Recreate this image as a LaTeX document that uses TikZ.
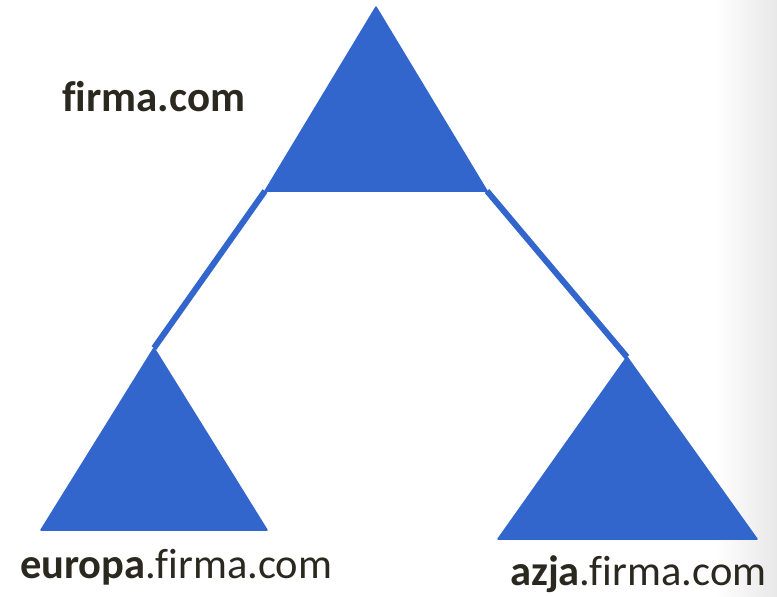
\documentclass[tikz,border=0pt]{standalone}
\usepackage{fontspec}
\setmainfont{Carlito}[Ligatures=CommonOff]
\definecolor{tri}{HTML}{3366CC}
\definecolor{txt}{HTML}{2B2820}
\begin{document}
\begin{tikzpicture}[x=1pt,y=-1pt,
  trifill/.style={fill=tri,draw=tri,line width=1.5pt,line join=round},
  link/.style={draw=tri,line width=6pt},
  lbl/.style={text=txt,inner sep=0pt,anchor=base west}]
\useasboundingbox (0,0) rectangle (777,597);
\shade[left color=white,right color=black!9,draw=none] (715,0) rectangle (777,597);
% top triangle
\coordinate (tA) at (376,7);
\coordinate (tL) at (265,191);
\coordinate (tR) at (487,191);
% left triangle
\coordinate (lA) at (154,348);
\coordinate (lL) at (41,530);
\coordinate (lR) at (267,530);
% right triangle
\coordinate (rA) at (627,357);
\coordinate (rL) at (498,539);
\coordinate (rR) at (757,539);
\draw[link] (tL) -- (lA);
\draw[link] (tR) -- (rA);
\path[trifill] (tA) -- (tR) -- (tL) -- cycle;
\path[trifill] (lA) -- (lR) -- (lL) -- cycle;
\path[trifill] (rA) -- (rR) -- (rL) -- cycle;
\node[lbl,font=\fontsize{43}{47}\selectfont\bfseries] (top) at (62,111) {firma.com};
\node[lbl,font=\fontsize{42.5}{46}\selectfont] (eu) at (20,578) {\textbf{europa}.firma.com};
\node[lbl,font=\fontsize{42.5}{46}\selectfont] (az) at (510,585) {\textbf{azja}.firma.com};
\end{tikzpicture}
\end{document}
